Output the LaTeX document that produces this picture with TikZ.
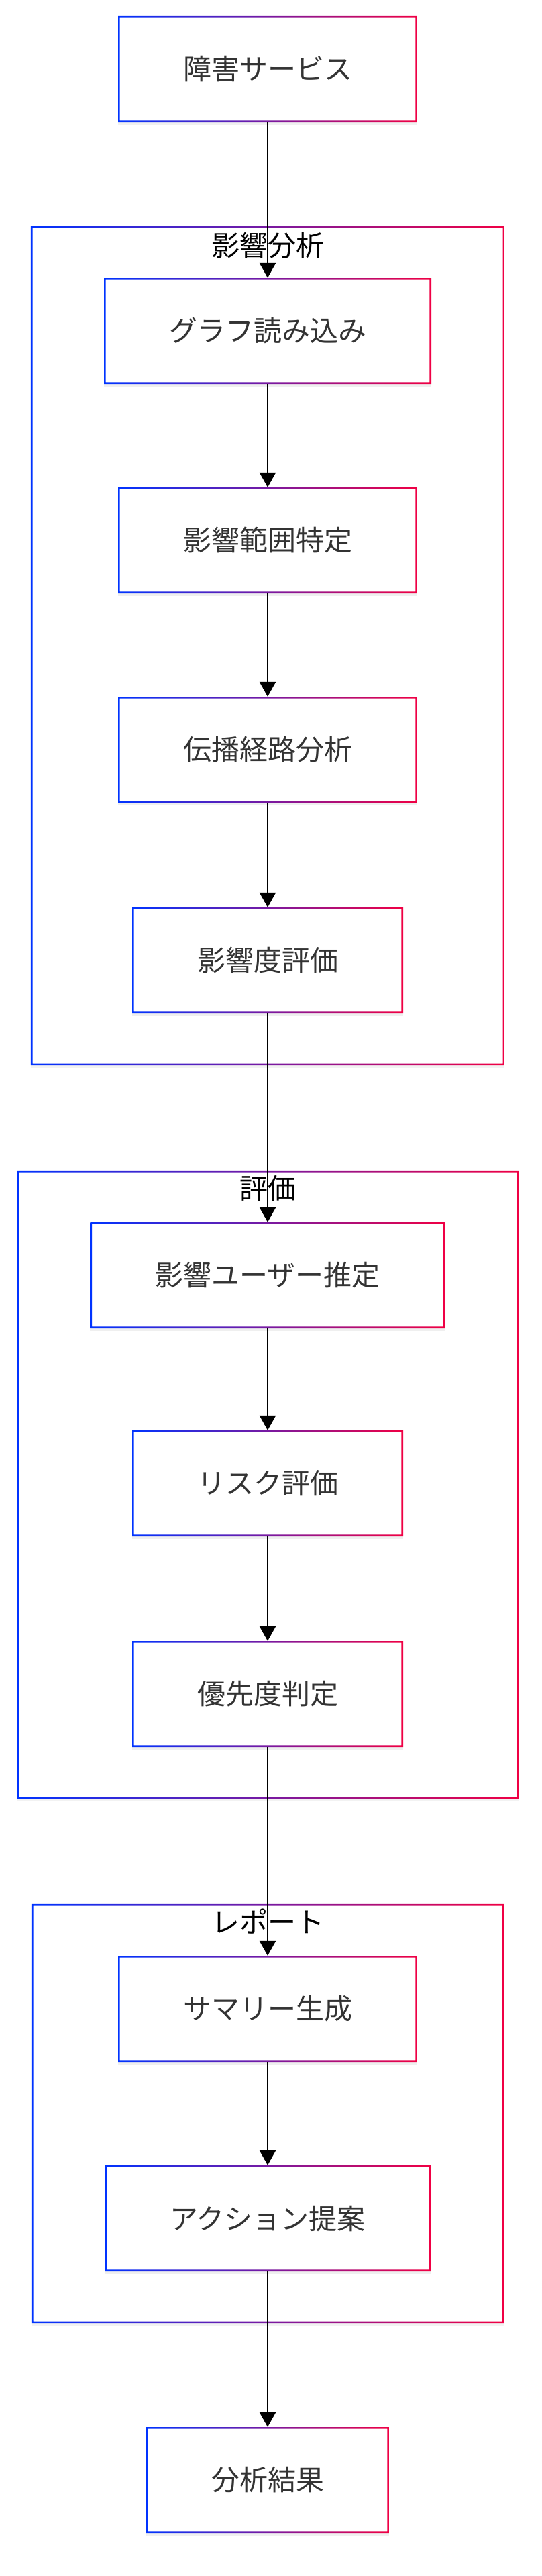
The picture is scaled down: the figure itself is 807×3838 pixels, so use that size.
\documentclass[tikz,border=0pt]{standalone}
\usepackage{fontspec}
\newfontfamily\jpfont{Noto Sans CJK JP}
\usetikzlibrary{arrows.meta,fit,backgrounds,shadows}
\definecolor{gblue}{RGB}{0,51,255}
\definecolor{gred}{RGB}{240,0,68}
\definecolor{labelgray}{RGB}{51,51,51}
\tikzset{
    gframe/.style={path picture={
        \shade[left color=gblue, right color=gred, even odd rule]
            (path picture bounding box.south west) rectangle (path picture bounding box.north east)
            ([xshift=2.7pt,yshift=2.7pt]path picture bounding box.south west) rectangle
            ([xshift=-2.7pt,yshift=-2.7pt]path picture bounding box.north east);}},
    stepbox/.style={gframe, rectangle, fill=white, minimum height=158pt,
        inner xsep=97pt, inner ysep=0pt, text=labelgray,
        font=\jpfont\fontsize{42}{50}\selectfont,
        drop shadow={opacity=0.12, shadow xshift=0pt, shadow yshift=-4pt}},
    grpbox/.style={gframe, rectangle, fill=white, inner xsep=109pt, inner ysep=77pt,
        drop shadow={opacity=0.10, shadow xshift=0pt, shadow yshift=-4pt}},
    grptitle/.style={inner sep=0pt, text=black, font=\jpfont\fontsize{42}{50}\selectfont},
    flow/.style={line width=2.7pt, -{Triangle[length=22pt,width=24pt]}}
}
\begin{document}
\begin{tikzpicture}[x=1pt, y=-1pt]
    \useasboundingbox (0,0) rectangle (807,3838);

    \node[stepbox] (svc) at (399,103) {障害サービス};

    % 影響分析
    \node[stepbox] (load) at (399,493) {グラフ読み込み};
    \node[stepbox] (scope) at (399,805) {影響範囲特定};
    \node[stepbox] (prop) at (399,1117) {伝播経路分析};
    \node[stepbox] (sev) at (399,1431) {影響度評価};

    % 評価
    \node[stepbox] (users) at (399,1900) {影響ユーザー推定};
    \node[stepbox] (risk) at (399,2210) {リスク評価};
    \node[stepbox] (prio) at (399,2524) {優先度判定};

    % レポート
    \node[stepbox] (summ) at (399,2993) {サマリー生成};
    \node[stepbox] (act) at (399,3305) {アクション提案};

    \node[stepbox] (res) at (399,3695) {分析結果};

    \begin{scope}[on background layer]
        \node[grpbox, fit=(load)(sev)] (impact) {};
        \node[grpbox, fit=(users)(prio)] (eval) {};
        \node[grpbox, fit=(summ)(act)] (report) {};
    \end{scope}
    \node[grptitle] (impactT) at ([yshift=-29pt]impact.north) {影響分析};
    \node[grptitle] (evalT) at ([yshift=-27pt]eval.north) {評価};
    \node[grptitle] (reportT) at ([yshift=-26pt]report.north) {レポート};

    \foreach \a/\b in {svc/load, load/scope, scope/prop, prop/sev, sev/users,
        users/risk, risk/prio, prio/summ, summ/act, act/res}
        \draw[flow] (\a) -- (\b);
\end{tikzpicture}
\end{document}
